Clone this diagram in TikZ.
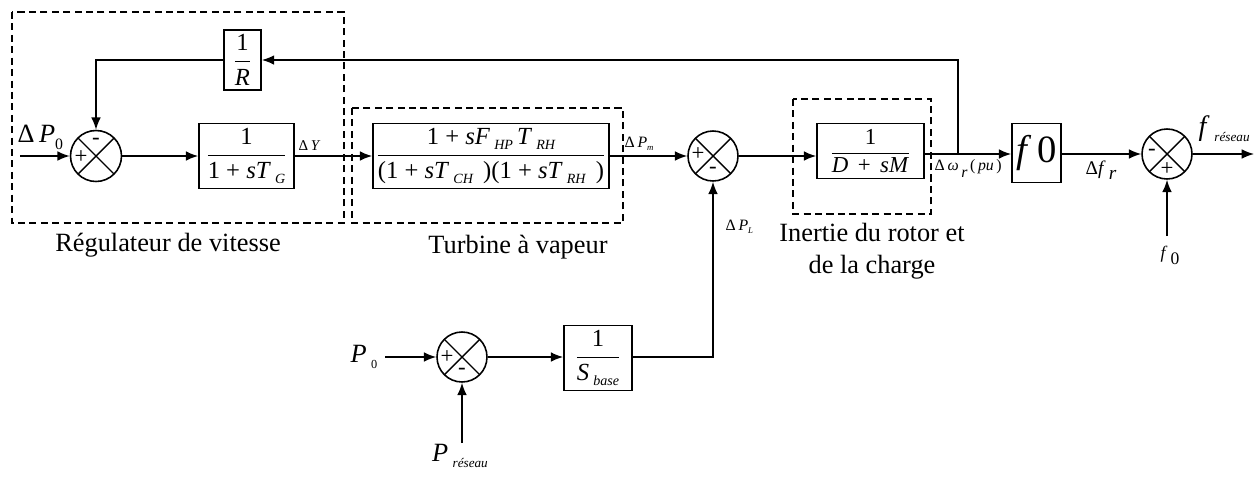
\documentclass[tikz,border=0pt]{standalone}
\usepackage{fontspec}
\setmainfont{Liberation Serif}
\usetikzlibrary{arrows.meta,calc}
\newcommand{\lsub}[2][8]{\raisebox{-0.45ex}{\fontsize{#1}{#1}\selectfont\itshape #2}}
\newcommand{\nsub}[2][8]{\raisebox{-0.55ex}{\fontsize{#1}{#1}\selectfont #2}}
\newcommand{\blkfrac}[2]{$\displaystyle\frac{\hbox{#1}}{\hbox{#2}}$}
\begin{document}
\begin{tikzpicture}[x=0.02cm,y=-0.02cm,line width=0.8pt,
  sig/.style={-{Latex[length=7pt,width=5.5pt]}},
  blk/.style={draw,line width=1pt,inner sep=0pt,font=\fontsize{14}{16}\selectfont},
  grp/.style={draw,dashed,line width=0.8pt,dash pattern=on 4pt off 2.5pt},
  sumj/.style={draw,circle,inner sep=0pt,minimum size=1.02cm,line width=0.9pt,
    path picture={\draw[line width=0.8pt] (path picture bounding box.north west) -- (path picture bounding box.south east)
      (path picture bounding box.north east) -- (path picture bounding box.south west);}},
  sgn/.style={inner sep=0pt,font=\fontsize{13}{13}\selectfont},
  captxt/.style={inner sep=0pt,font=\fontsize{15}{18}\selectfont,align=center},
  lbl/.style={inner sep=0pt}]
\useasboundingbox (0,0) rectangle (1256,477);
% group frames
\draw[grp] (12,12) rectangle (344,223);
\draw[grp] (352,108) rectangle (623,223);
\draw[grp] (793,99) rectangle (931,214);
% blocks
\node[blk,minimum width=0.74cm,minimum height=1.2cm] (R) at (242.5,60) {\blkfrac{1}{\textit{R}}};
\node[blk,minimum width=1.9cm,minimum height=1.3cm] (G) at (246.5,156) {\blkfrac{1}{1 + \textit{sT}\,\lsub{G}}};
\node[blk,minimum width=4.72cm,minimum height=1.3cm] (T) at (491,156) {\blkfrac{1 + \textit{sF}\,\lsub{HP}\,\textit{T}\,\lsub{RH}}{(1 + \textit{sT}\,\lsub{CH}\ \,)(1 + \textit{sT}\,\lsub{RH}\ \,)}};
\node[blk,minimum width=2.14cm,minimum height=1.1cm,font=\fontsize{13}{15}\selectfont] (D) at (870.5,151) {\blkfrac{1}{\textit{D}\, + \,\textit{sM}}};
\node[blk,minimum width=0.98cm,minimum height=1.18cm,font=\fontsize{22}{22}\selectfont] (F) at (1036.5,153) {\textit{f}\,0};
\node[blk,minimum width=1.36cm,minimum height=1.3cm] (S) at (598,358) {\blkfrac{1}{\textit{S}\,\lsub{base}}};
% summing junctions
\node[sumj] (s1) at (96,156) {};
\node[sumj,minimum size=1.0cm] (s2) at (713,156) {};
\node[sumj,minimum size=1.0cm] (s3) at (1167,154) {};
\node[sumj,minimum size=1.0cm] (s4) at (462,357) {};
\node[sgn] (s1p) at ($(s1)+(-15,1)$) {+};
\node[sgn] (s1m) at ($(s1)+(0,-15)$) {-};
\node[sgn] (s2p) at ($(s2)+(-15,-2)$) {+};
\node[sgn] (s2m) at ($(s2)+(0,14)$) {-};
\node[sgn] (s3m) at ($(s3)+(-15,-2)$) {-};
\node[sgn] (s3p) at ($(s3)+(0,15)$) {+};
\node[sgn] (s4p) at ($(s4)+(-15,0)$) {+};
\node[sgn] (s4m) at ($(s4)+(0,14)$) {-};
% free ends
\coordinate (in1) at (20,156);
\coordinate (tap) at (958,154);
\coordinate (out) at (1254,154);
\coordinate (f0in) at (1167,236);
\coordinate (p0in) at (385,357);
\coordinate (prin) at (462,443);
\coordinate (fbtop) at (958,60);
% connectors
\draw[sig] (in1) -- (s1.west);
\draw[sig] (s1.east) -- (G.west);
\draw[sig] (G.east) -- (T.west);
\draw[sig] (T.east) -- (s2.west);
\draw[sig] (s2.east) -- (s2.east -| D.west);
\draw[sig] (D.east |- tap) -- (F.west |- tap);
\draw[sig] (F.east |- s3) -- (s3.west);
\draw[sig] (s3.east) -- (out);
\draw[sig] (f0in) -- (s3.south);
\draw[sig] (tap) -- (fbtop) -- (R.east);
\draw[sig] (R.west) -| (s1.north);
\draw[sig] (p0in) -- (s4.west);
\draw[sig] (prin) -- (s4.south);
\draw[sig] (s4.east) -- (S.west |- s4);
\draw[sig] (S.east |- s4) -| (s2.south);
% signal labels
\node[lbl,anchor=south west,font=\fontsize{15}{15}\selectfont] (lP0) at (17,150) {Δ\,\textit{P}\nsub[9]{0}};
\node[lbl,anchor=south west,font=\fontsize{8.5}{9}\selectfont] (lY) at (298,151) {Δ\,\textit{Y}};
\node[lbl,anchor=south west,font=\fontsize{9}{9}\selectfont] (lPm) at (624,151) {Δ\,\textit{P}\lsub[5]{m}};
\node[lbl,anchor=south west,font=\fontsize{9}{9}\selectfont] (lPL) at (725,234) {Δ\,\textit{P}\lsub[5]{L}};
\node[lbl,anchor=north west,font=\fontsize{9}{9}\selectfont] (lw) at (934,159) {Δ\,\textit{ω}\,\raisebox{-0.9ex}{\itshape r}\,(\,\textit{pu}\,)};
\node[lbl,anchor=north west,font=\fontsize{11}{11}\selectfont] (lfr) at (1085,160) {Δ\textit{f}\,\raisebox{-0.6ex}{\itshape r}};
\node[lbl,anchor=south west,font=\fontsize{16}{16}\selectfont] (lfres) at (1198,142) {\textit{f}\,\lsub[7.5]{réseau}};
\node[lbl,anchor=north west,font=\fontsize{10}{10}\selectfont] (lf0) at (1160,245) {\textit{f}\,\raisebox{-0.8ex}{0}};
\node[lbl,anchor=east,font=\fontsize{15}{15}\selectfont] (lP0b) at (378,357) {\textit{P}\,\nsub[7]{0}};
\node[lbl,anchor=north,font=\fontsize{15}{15}\selectfont] (lPr) at (460,444) {\textit{P}\,\lsub[7.5]{réseau}};
% captions
\node[captxt] (c1) at (168,245) {Régulateur de vitesse};
\node[captxt] (c2) at (518,247) {Turbine à vapeur};
\node[captxt] (c3) at (872,251) {Inertie du rotor et\\de la charge};
\end{tikzpicture}
\end{document}
